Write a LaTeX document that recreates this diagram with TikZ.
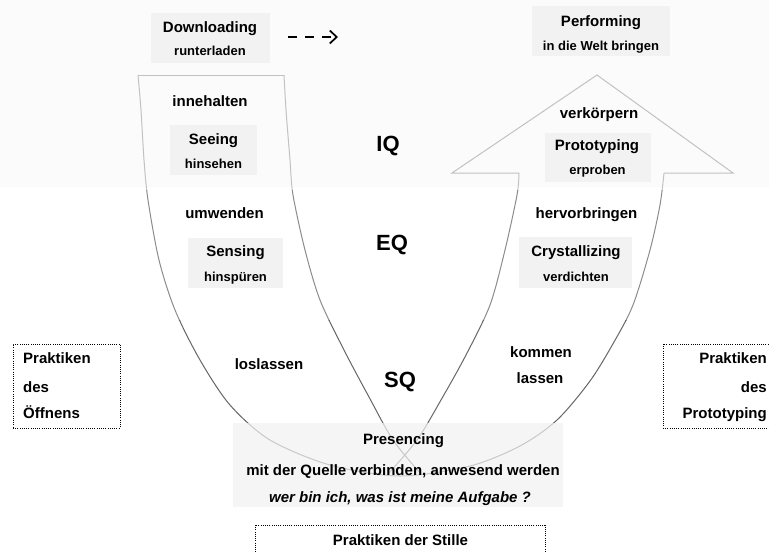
\documentclass[tikz,border=0pt]{standalone}
\usepackage{fontspec}
\setmainfont{Liberation Sans}
\usetikzlibrary{arrows.meta}
\newcommand\ushapepaths{%
  \draw[ushape] plot[smooth] coordinates {(138,75) (141,110) (144,160) (148,200) (159,260) (175,310) (200,360) (230,405) (270,440) (330,465) (400,476) (470,466) (520,446) (557,420) (590,381) (614,342) (633,305) (650,250) (660,205) (664,173)};
  \draw[ushape] (138,75) -- (284,75);
  \draw[ushape] plot[smooth] coordinates {(284,75) (286,110) (290,160) (293,195) (305,250) (320,300) (344,350) (369,397) (393,440) (421,474)};
  \draw[ushape] plot[smooth] coordinates {(519,173) (517,195) (505,250) (490,305) (466,355) (441,400) (417,440) (388,474)};
  \draw[ushape,line join=miter] (519,173) -- (452,173) -- (597,75) -- (733,173) -- (664,173);
}
\begin{document}
\begin{tikzpicture}[x=1pt,y=-1pt,
  big/.style={font=\fontsize{15}{18}\selectfont\bfseries, inner sep=0pt, anchor=base},
  small/.style={font=\fontsize{13}{16}\selectfont\bfseries, inner sep=0pt, anchor=base},
  quot/.style={font=\fontsize{22}{26}\selectfont\bfseries, inner sep=0pt, anchor=base},
  gbox/.style={fill=black!5, draw=none, inner sep=0pt},
  dotbox/.style={draw=black, dash pattern=on 1pt off 1.2pt, line width=1pt, fill=none, inner sep=0pt},
  ushape/.style={line width=1pt}]
\useasboundingbox (0,0) rectangle (769,552);
\fill[white] (0,0) rectangle (769,552);
\fill[black!1.5] (0,0) rectangle (769,187);

% grey label boxes
\node[gbox, minimum width=119pt, minimum height=50pt] (dlbox) at (210.5,38) {};
\node[gbox, minimum width=138pt, minimum height=50pt] (pfbox) at (601,31) {};
\node[gbox, minimum width=87pt, minimum height=50pt] (sebox) at (213.5,150) {};
\node[gbox, minimum width=95pt, minimum height=50pt] (snbox) at (235.5,263) {};
\node[gbox, minimum width=113pt, minimum height=51pt] (crbox) at (575.5,262.5) {};
\node[gbox, minimum width=106pt, minimum height=49pt] (prbox) at (598,157.5) {};

% U shape, darker towards the bottom
\begin{scope}
  \clip (0,0) rectangle (769,190);
  \begin{scope}[black!24] \ushapepaths \end{scope}
\end{scope}
\begin{scope}
  \clip (0,190) rectangle (769,320);
  \begin{scope}[black!45] \ushapepaths \end{scope}
\end{scope}
\begin{scope}
  \clip (0,320) rectangle (769,552);
  \begin{scope}[black!60] \ushapepaths \end{scope}
\end{scope}

% presencing box (semi-transparent over the curves)
\node[gbox, fill opacity=0.7, minimum width=330pt, minimum height=84pt] (psbox) at (397.5,465) {};

% dotted boxes
\node[dotbox, minimum width=107pt, minimum height=84pt] (lbox) at (66.5,386) {};
\node[dotbox, minimum width=112pt, minimum height=84pt] (rbox) at (719,386) {};
\node[dotbox, minimum width=290pt, minimum height=36pt] (sbox) at (400,543) {};

% dashed arrow
\coordinate (da1) at (288,37);
\coordinate (da2) at (338,37);
\draw[line width=1.7pt, dash pattern=on 9pt off 8pt, -{Straight Barb[length=7pt,width=13pt,line width=1.7pt]}] (da1) -- (da2);

% texts
\node[big] (dl) at (210,32) {Downloading};
\node[small] (dls) at (210,55) {runterladen};
\node[big] (pf) at (601,26) {Performing};
\node[small] (pfs) at (601,50) {in die Welt bringen};

\node[big] (inne) at (210,106) {innehalten};
\node[big] (see) at (213.5,144) {Seeing};
\node[small] (sees) at (213.5,168) {hinsehen};
\node[big] (umw) at (224.5,218) {umwenden};
\node[big] (sen) at (235.5,256) {Sensing};
\node[small] (sens) at (235.5,281) {hinspüren};
\node[big] (los) at (269,369) {loslassen};

\node[big] (verk) at (599,118) {verkörpern};
\node[big] (proto) at (597,150) {Prototyping};
\node[small] (protos) at (597.5,174) {erproben};
\node[big] (herv) at (586.5,218) {hervorbringen};
\node[big] (cry) at (576,256) {Crystallizing};
\node[small] (crys) at (576,281) {verdichten};
\node[big] (komm) at (541,357) {kommen};
\node[big] (lass) at (540,383) {lassen};

\node[quot] (iq) at (388,151) {IQ};
\node[quot] (eq) at (392,250) {EQ};
\node[quot] (sq) at (400,387) {SQ};

\node[big] (pres) at (403.5,444) {Presencing};
\node[big] (presa) at (403,475) {mit der Quelle verbinden, anwesend werden};
\node[big, font=\fontsize{15}{18}\selectfont\bfseries\itshape] (presb) at (400,502) {wer bin ich, was ist meine Aufgabe ?};

\node[big, anchor=base west] (l1) at (23,363) {Praktiken};
\node[big, anchor=base west] (l2) at (23,392) {des};
\node[big, anchor=base west] (l3) at (23,418) {Öffnens};
\node[big, anchor=base east] (r1) at (767,363) {Praktiken};
\node[big, anchor=base east] (r2) at (767,392) {des};
\node[big, anchor=base east] (r3) at (767,418) {Prototyping};

\node[big] (stille) at (400.5,545) {Praktiken der Stille};
\end{tikzpicture}
\end{document}
